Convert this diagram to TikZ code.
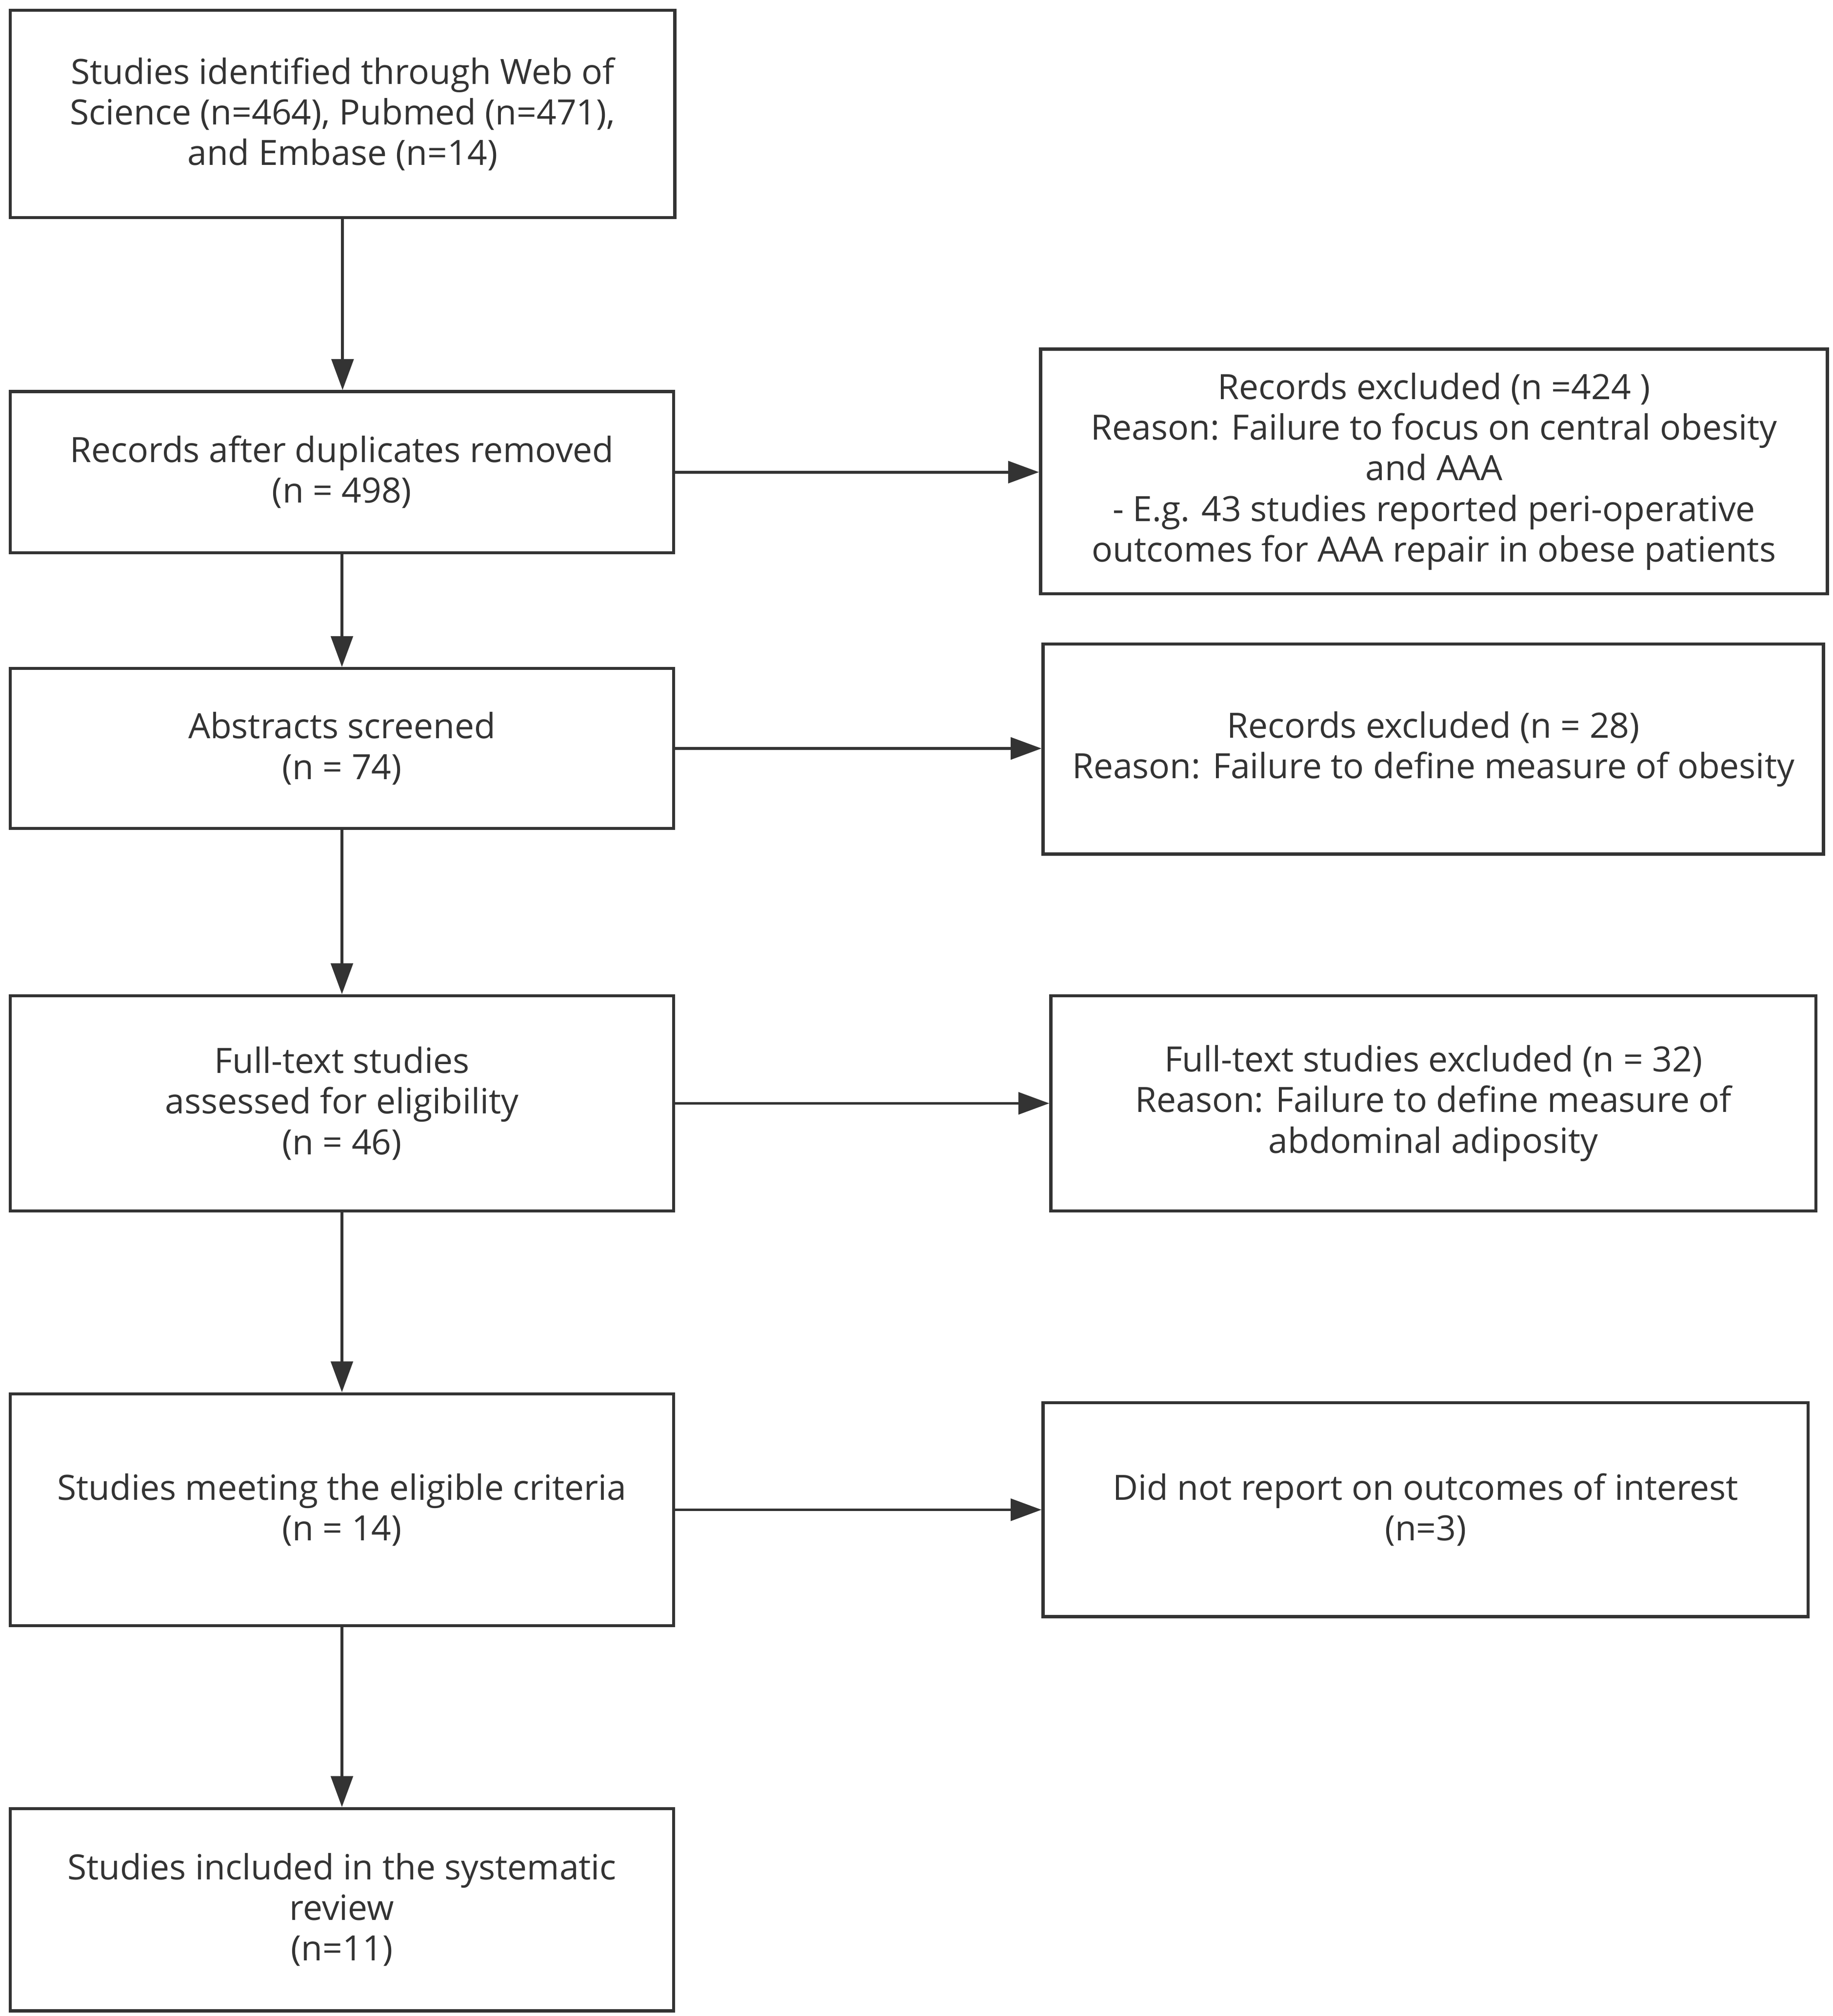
\documentclass[tikz,border=0pt]{standalone}
\usepackage{fontspec}
\setmainfont{Open Sans}
\usetikzlibrary{arrows.meta,calc}
\definecolor{ink}{HTML}{333333}
\begin{document}
\begin{tikzpicture}[
  every node/.style={font=\fontsize{13.5}{15.75}\selectfont, text=ink},
  boxnode/.style={draw=ink, line width=1.2pt, rectangle, inner sep=0pt, align=center, fill=white},
  conn/.style={draw=ink, line width=1.1pt, -{Triangle[length=12pt,width=8.5pt]}}
]
\useasboundingbox[fill=white] (0,0) rectangle (711.5pt,-782.5pt);
\node[boxnode, minimum width=258pt, minimum height=80.5pt] (b1) at (133pt,-44.25pt)
  {Studies identified through Web of\\Science (n=464), Pubmed (n=471),\\and Embase (n=14)};
\node[boxnode, minimum width=257.5pt, minimum height=62.5pt] (b2) at (132.75pt,-183.25pt)
  {Records after duplicates removed\\(n = 498)};
\node[boxnode, minimum width=305.5pt, minimum height=95pt] (r1) at (556.75pt,-183pt)
  {Records excluded (n =424 )\\Reason: Failure to focus on central obesity\\and AAA\\- E.g. 43 studies reported peri-operative\\outcomes for AAA repair in obese patients};
\node[boxnode, minimum width=257.5pt, minimum height=62pt] (b3) at (132.75pt,-290.5pt)
  {Abstracts screened\\(n = 74)};
\node[boxnode, minimum width=303pt, minimum height=81.5pt] (r2) at (556.5pt,-290.75pt)
  {Records excluded (n = 28)\\Reason: Failure to define measure of obesity};
\node[boxnode, minimum width=257.5pt, minimum height=83.5pt] (b4) at (132.75pt,-428.25pt)
  {Full-text studies\\assessed for eligibility\\(n = 46)};
\node[boxnode, minimum width=297pt, minimum height=83.5pt] (r3) at (556.5pt,-428.25pt)
  {Full-text studies excluded (n = 32)\\Reason: Failure to define measure of\\abdominal adiposity};
\node[boxnode, minimum width=257.5pt, minimum height=90pt] (b5) at (132.75pt,-586pt)
  {Studies meeting the eligible criteria\\(n = 14)};
\node[boxnode, minimum width=297pt, minimum height=83pt] (r4) at (553.5pt,-586pt)
  {Did not report on outcomes of interest\\(n=3)};
\node[boxnode, minimum width=257.5pt, minimum height=78.5pt] (b6) at (132.75pt,-741.25pt)
  {Studies included in the systematic\\review\\(n=11)};
\draw[conn] (b1.south) -- (b1.south |- b2.north);
\draw[conn] (b2.south) -- (b3.north);
\draw[conn] (b3.south) -- (b4.north);
\draw[conn] (b4.south) -- (b5.north);
\draw[conn] (b5.south) -- (b6.north);
\draw[conn] (b2.east) -- (b2.east -| r1.west);
\draw[conn] (b3.east) -- (b3.east -| r2.west);
\draw[conn] (b4.east) -- (b4.east -| r3.west);
\draw[conn] (b5.east) -- (b5.east -| r4.west);
\end{tikzpicture}
\end{document}
